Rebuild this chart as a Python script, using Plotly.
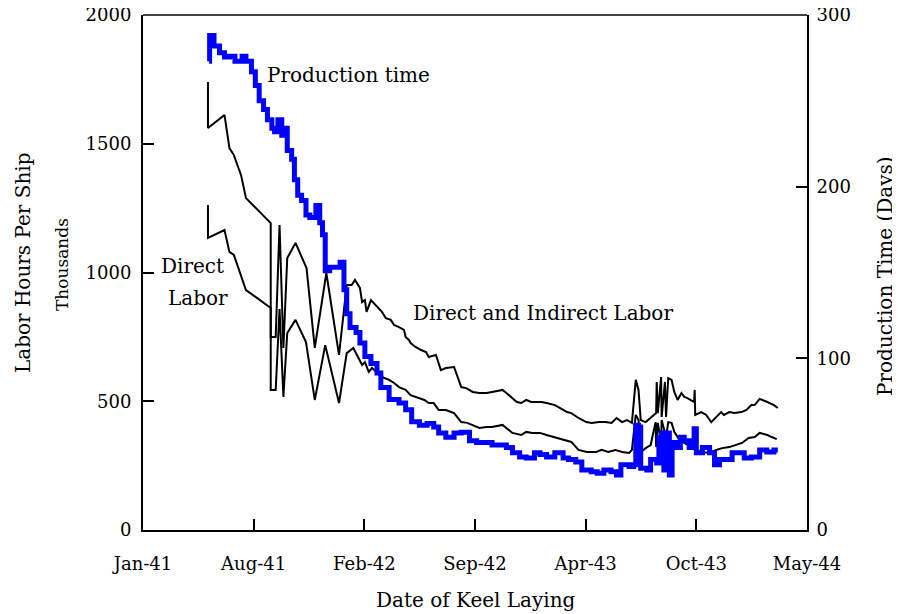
import plotly.graph_objects as go

# ---------------- data ----------------
prod_dates = [
    "1941-05-20", "1941-05-21", "1941-05-29", "1941-06-08", "1941-06-17", "1941-06-26",
    "1941-07-06", "1941-07-19", "1941-07-26", "1941-08-05", "1941-08-12", "1941-08-19",
    "1941-08-27", "1941-09-03", "1941-09-11", "1941-09-16", "1941-09-22", "1941-09-29",
    "1941-10-04", "1941-10-09", "1941-10-17", "1941-10-22", "1941-10-28", "1941-11-04",
    "1941-11-12", "1941-11-19", "1941-11-30", "1941-12-07", "1941-12-12", "1941-12-17",
    "1941-12-25", "1942-01-13", "1942-01-20", "1942-01-25", "1942-01-31", "1942-02-11",
    "1942-02-18", "1942-02-27", "1942-03-10", "1942-03-21", "1942-03-28", "1942-04-12",
    "1942-04-30", "1942-05-12", "1942-05-23", "1942-06-06", "1942-06-20", "1942-07-02",
    "1942-07-11", "1942-07-24", "1942-08-08", "1942-08-21", "1942-09-05", "1942-09-18",
    "1942-10-02", "1942-10-16", "1942-10-29", "1942-11-11", "1942-11-22", "1942-12-05",
    "1942-12-17", "1943-01-01", "1943-01-11", "1943-01-23", "1943-02-07", "1943-02-22",
    "1943-03-04", "1943-03-17", "1943-03-28", "1943-04-14", "1943-04-25", "1943-05-07",
    "1943-05-20", "1943-05-30", "1943-06-07", "1943-06-22", "1943-06-30", "1943-07-04",
    "1943-07-09", "1943-07-13", "1943-07-24", "1943-07-31", "1943-08-11", "1943-08-15",
    "1943-08-20", "1943-08-24", "1943-08-30", "1943-09-03", "1943-09-08", "1943-09-16",
    "1943-09-23", "1943-09-30", "1943-10-09", "1943-10-18", "1943-10-22", "1943-11-02",
    "1943-11-15", "1943-11-24", "1943-12-03", "1943-12-15", "1943-12-26", "1944-01-05",
    "1944-01-17", "1944-01-30", "1944-02-14", "1944-02-27", "1944-03-11", "1944-03-18",
]
prod_days = [
    273, 288, 282, 278, 275.5, 276,
    273, 276, 273, 267, 259, 250,
    245, 239, 234, 232, 239, 230,
    234, 221, 216, 204, 195, 192,
    183.5, 182, 189, 179, 172, 151,
    153, 156, 140, 126, 118, 115,
    109, 101, 97, 91.5, 83, 76,
    74, 70, 63, 61, 62, 60,
    56.5, 54, 56.5, 57, 52, 51,
    51, 49.5, 49.5, 48, 45, 42.5,
    42, 45, 44, 42.5, 45, 42,
    41, 39.6, 35, 34, 33, 35,
    34, 32, 38, 37, 38, 61,
    60, 36, 35, 41, 39, 54,
    56.5, 35, 56.5, 32, 51, 48,
    54, 52, 48, 59, 45, 48,
    45, 38, 41, 41, 45, 45,
    42, 42.5, 46.6, 45.4, 46.6, 46.6,
]

total_dates = [
    "1941-05-18", "1941-05-18", "1941-06-17", "1941-06-26", "1941-07-04", "1941-07-17",
    "1941-07-26", "1941-09-09", "1941-09-09", "1941-09-18", "1941-09-25", "1941-10-02",
    "1941-10-09", "1941-10-24", "1941-11-13", "1941-11-28", "1941-12-19", "1942-01-11",
    "1942-01-25", "1942-02-03", "1942-02-09", "1942-02-18", "1942-02-22", "1942-02-27",
    "1942-03-02", "1942-03-10", "1942-03-30", "1942-04-06", "1942-04-15", "1942-04-21",
    "1942-04-30", "1942-05-09", "1942-05-12", "1942-05-18", "1942-05-21", "1942-05-30",
    "1942-06-09", "1942-06-18", "1942-06-23", "1942-07-06", "1942-07-15", "1942-07-24",
    "1942-08-08", "1942-08-21", "1942-08-30", "1942-09-11", "1942-09-23", "1942-10-06",
    "1942-10-16", "1942-11-04", "1942-11-11", "1942-11-21", "1942-11-30", "1942-12-08",
    "1942-12-17", "1942-12-26", "1943-01-05", "1943-01-14", "1943-01-23", "1943-02-07",
    "1943-02-16", "1943-03-01", "1943-03-09", "1943-03-22", "1943-04-05", "1943-04-15",
    "1943-04-28", "1943-05-10", "1943-05-21", "1943-05-30", "1943-06-09", "1943-06-18",
    "1943-06-27", "1943-07-04", "1943-07-09", "1943-07-13", "1943-07-22", "1943-07-31",
    "1943-08-10", "1943-08-11", "1943-08-13", "1943-08-19", "1943-08-20", "1943-08-26",
    "1943-08-28", "1943-09-01", "1943-09-07", "1943-09-12", "1943-09-18", "1943-09-25",
    "1943-09-30", "1943-10-05", "1943-10-13", "1943-10-18", "1943-10-19", "1943-10-20",
    "1943-10-31", "1943-11-09", "1943-11-18", "1943-11-27", "1943-12-06", "1943-12-11",
    "1943-12-21", "1943-12-30", "1944-01-12", "1944-01-21", "1944-01-30", "1944-02-05",
    "1944-02-14", "1944-02-28", "1944-03-11", "1944-03-18",
]
total_labor = [
    1740, 1561, 1612, 1483, 1456, 1379,
    1289, 1192, 750, 750, 1184, 707,
    1056, 1115, 1017, 707, 998, 680,
    951, 951, 971, 940, 885, 893,
    847, 893, 847, 823, 816, 796,
    788, 777, 750, 738, 726, 711,
    699, 691, 672, 680, 621, 629,
    633, 555, 551, 536, 532, 532,
    536, 544, 532, 513, 497, 493,
    505, 497, 497, 497, 493, 485,
    474, 458, 454, 435, 419, 416,
    419, 419, 416, 435, 419, 427,
    416, 583, 544, 427, 419, 435,
    454, 575, 454, 594, 439, 575,
    439, 590, 583, 536, 505, 532,
    517, 513, 505, 497, 544, 447,
    458, 447, 419, 439, 458, 447,
    458, 454, 458, 466, 485, 485,
    509, 497, 485, 474,
]

direct_dates = [
    "1941-05-18", "1941-05-18", "1941-06-17", "1941-06-26", "1941-07-04", "1941-07-26",
    "1941-09-09", "1941-09-09", "1941-09-18", "1941-09-25", "1941-10-02", "1941-10-09",
    "1941-10-24", "1941-11-12", "1941-11-28", "1941-12-17", "1942-01-11", "1942-01-25",
    "1942-02-06", "1942-02-15", "1942-02-22", "1942-02-27", "1942-03-06", "1942-03-12",
    "1942-03-30", "1942-04-12", "1942-04-21", "1942-04-30", "1942-05-12", "1942-05-21",
    "1942-06-06", "1942-06-15", "1942-06-23", "1942-07-02", "1942-07-11", "1942-07-24",
    "1942-08-08", "1942-08-21", "1942-09-01", "1942-09-11", "1942-09-23", "1942-10-06",
    "1942-10-16", "1942-11-04", "1942-11-11", "1942-11-22", "1942-12-08", "1942-12-17",
    "1942-12-28", "1943-01-11", "1943-01-23", "1943-02-11", "1943-02-22", "1943-03-09",
    "1943-03-22", "1943-04-06", "1943-04-23", "1943-05-03", "1943-05-15", "1943-05-28",
    "1943-06-09", "1943-06-22", "1943-06-27", "1943-07-04", "1943-07-09", "1943-07-13",
    "1943-07-22", "1943-07-31", "1943-08-09", "1943-08-10", "1943-08-13", "1943-08-19",
    "1943-08-20", "1943-08-28", "1943-09-01", "1943-09-07", "1943-09-12", "1943-09-21",
    "1943-09-30", "1943-10-13", "1943-10-22", "1943-11-02", "1943-11-15", "1943-11-27",
    "1943-12-08", "1943-12-21", "1944-01-02", "1944-01-13", "1944-01-25", "1944-02-05",
    "1944-02-14", "1944-02-28", "1944-03-07", "1944-03-16",
]
direct_labor = [
    1262, 1134, 1165, 1080, 1068, 932,
    862, 544, 544, 858, 517, 765,
    816, 730, 505, 718, 493, 687,
    707, 668, 641, 652, 614, 629,
    594, 583, 571, 555, 544, 524,
    513, 505, 493, 493, 466, 466,
    454, 419, 416, 408, 396, 400,
    400, 408, 396, 377, 369, 381,
    377, 377, 369, 357, 350, 342,
    311, 303, 303, 311, 303, 311,
    303, 299, 311, 447, 427, 303,
    318, 330, 419, 322, 416, 338,
    427, 361, 419, 416, 381, 350,
    338, 322, 311, 303, 299, 311,
    318, 322, 330, 338, 357, 361,
    377, 369, 361, 353,
]

x_tick_vals = ["1941-01-20", "1941-08-09", "1942-02-26", "1942-09-15",
               "1943-04-04", "1943-10-22", "1944-05-10"]
x_tick_text = ["Jan-41", "Aug-41", "Feb-42", "Sep-42", "Apr-43", "Oct-43", "May-44"]
left_ticks = [0, 500, 1000, 1500, 2000]
right_ticks = [0, 100, 200, 300]

FONT = "DejaVu Serif"

fig = go.Figure()
fig.add_trace(go.Scatter(x=total_dates, y=total_labor, mode="lines",
                         line=dict(color="black", width=2), name="Direct and Indirect Labor"))
fig.add_trace(go.Scatter(x=direct_dates, y=direct_labor, mode="lines",
                         line=dict(color="black", width=2), name="Direct Labor"))
fig.add_trace(go.Scatter(x=prod_dates, y=prod_days, mode="lines", yaxis="y2",
                         line=dict(color="#0000FF", width=5, shape="hv"), name="Production time"))

axis_common = dict(showgrid=False, zeroline=False, ticks="inside", ticklen=11,
                   tickwidth=1.5, tickcolor="black", linecolor="black", linewidth=2,
                   showline=True, automargin=False, ticklabeloverflow="allow",
                   tickfont=dict(family=FONT, size=18, color="black"))

# page body has an 8px margin, so the figure is sized to fit the 900x614 window
fig.update_layout(
    width=892, height=606,
    margin=dict(l=135, r=93, t=7, b=84),
    paper_bgcolor="white", plot_bgcolor="white",
    showlegend=False,
    font=dict(family=FONT, color="black"),
    xaxis=dict(type="date", range=[x_tick_vals[0], x_tick_vals[-1]],
               tickmode="array", tickvals=x_tick_vals, ticktext=x_tick_text,
               ticklabelstandoff=16, **axis_common),
    yaxis=dict(range=[0, 2000], tickmode="array", tickvals=left_ticks,
               ticklabelstandoff=6, **axis_common),
    yaxis2=dict(range=[0, 300], tickmode="array", tickvals=right_ticks, overlaying="y",
                side="right", ticklabelstandoff=4, **axis_common),
    shapes=[dict(type="line", xref="paper", yref="paper", x0=0, x1=1, y0=1, y1=1,
                 line=dict(color="black", width=1.5))],
)

ann = [
    dict(text="Production time", x=0.3095, y=0.8835, size=20),
    dict(text="Direct and Indirect Labor", x=0.6024, y=0.4214, size=20),
    dict(text="Direct", x=0.0753, y=0.5126, size=20),
    dict(text="Labor", x=0.0828, y=0.4505, size=20),
    dict(text="Date of Keel Laying", x=0.5015, y=-0.1359, size=20),
]
for a in ann:
    fig.add_annotation(text=a["text"], x=a["x"], y=a["y"], xref="paper", yref="paper",
                       showarrow=False, xanchor="center", yanchor="middle",
                       font=dict(family=FONT, size=a["size"], color="black"))

fig.add_annotation(text="Labor Hours Per Ship", x=-0.1807, y=0.5184, xref="paper", yref="paper",
                   showarrow=False, textangle=-90, xanchor="center", yanchor="middle",
                   font=dict(family=FONT, size=20, color="black"))
fig.add_annotation(text="Thousands", x=-0.122, y=0.5165, xref="paper", yref="paper",
                   showarrow=False, textangle=-90, xanchor="center", yanchor="middle",
                   font=dict(family=FONT, size=17, color="black"))
fig.add_annotation(text="Production Time (Days)", x=1.1175, y=0.4932, xref="paper", yref="paper",
                   showarrow=False, textangle=-90, xanchor="center", yanchor="middle",
                   font=dict(family=FONT, size=20, color="black"))

fig.write_html("out.html")
